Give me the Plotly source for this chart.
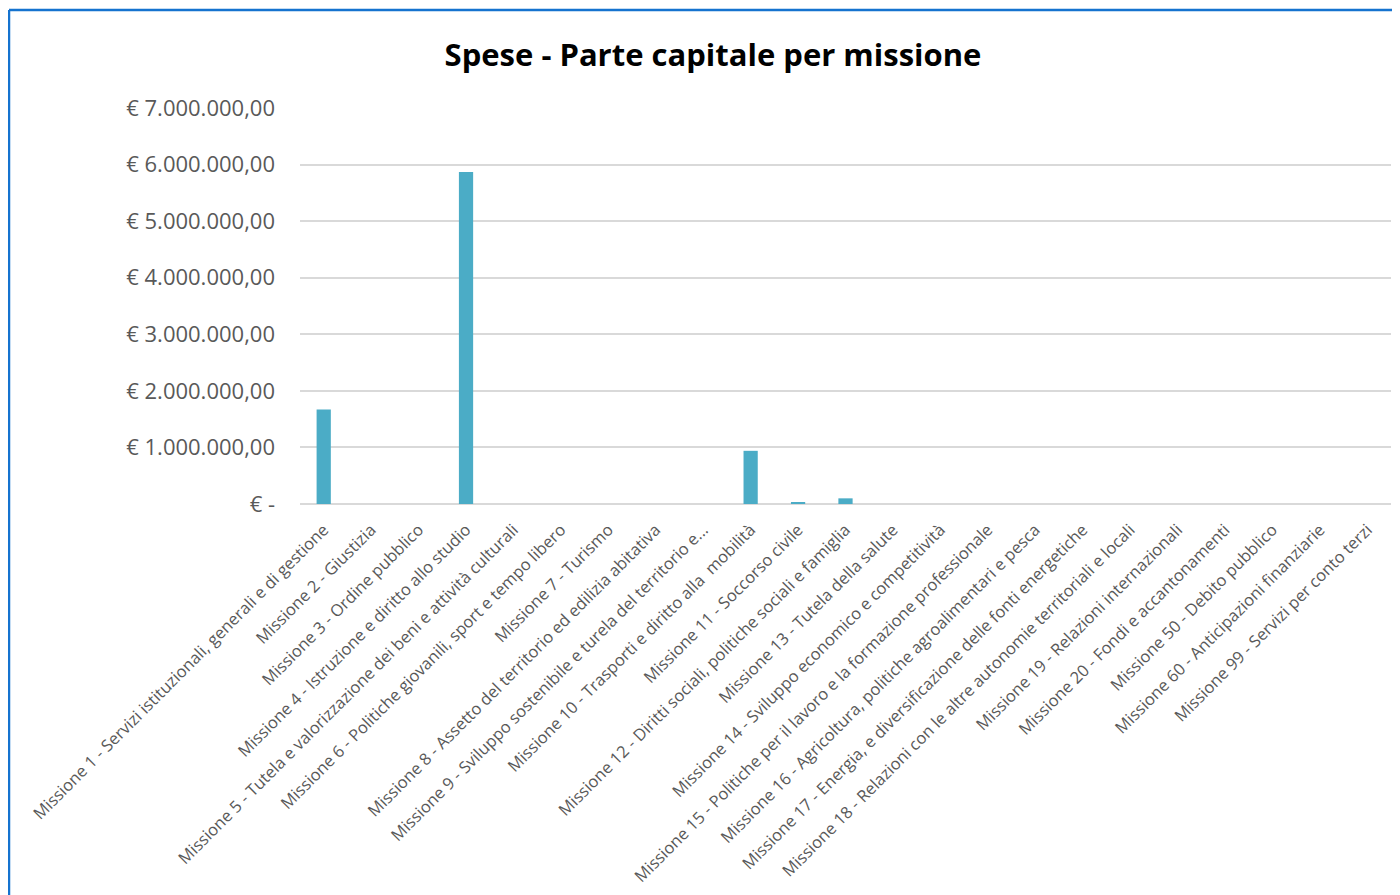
import plotly.graph_objects as go

categories = [
    "Missione 1 - Servizi istituzionali, generali e di gestione",
    "Missione 2 - Giustizia",
    "Missione 3 - Ordine pubblico",
    "Missione 4 - Istruzione e diritto allo studio",
    "Missione 5 - Tutela e valorizzazione dei beni e attività culturali",
    "Missione 6 - Politiche giovanili, sport e tempo libero",
    "Missione 7 - Turismo",
    "Missione 8 - Assetto del territorio ed edilizia abitativa",
    "Missione 9 - Sviluppo sostenibile e turela del territorio e...",
    "Missione 10 - Trasporti e diritto alla  mobilità",
    "Missione 11 - Soccorso civile",
    "Missione 12 - Diritti sociali, politiche sociali e famiglia",
    "Missione 13 - Tutela della salute",
    "Missione 14 - Sviluppo economico e competitività",
    "Missione 15 - Politiche per il lavoro e la formazione professionale",
    "Missione 16 - Agricoltura, politiche agroalimentari e pesca",
    "Missione 17 - Energia, e diversificazione delle fonti energetiche",
    "Missione 18 - Relazioni con le altre autonomie territoriali e locali",
    "Missione 19 - Relazioni internazionali",
    "Missione 20 - Fondi e accantonamenti",
    "Missione 50 - Debito pubblico",
    "Missione 60 - Anticipazioni finanziarie",
    "Missione 99 - Servizi per conto terzi",
]

values = [
    1670000, 0, 0, 5870000, 0, 0, 0, 0, 0, 940000, 35000, 100000,
    0, 0, 0, 0, 0, 0, 0, 0, 0, 0, 0,
]

tick_vals = [0, 1000000, 2000000, 3000000, 4000000, 5000000, 6000000, 7000000]
tick_text = ["€ -", "€ 1.000.000,00", "€ 2.000.000,00", "€ 3.000.000,00",
             "€ 4.000.000,00", "€ 5.000.000,00", "€ 6.000.000,00", "€ 7.000.000,00"]

# page body has an 8px margin, so the figure is laid out in shifted coordinates
OFF = 8
W, H = 1400 - OFF, 895 - OFF
L, T = 300 - OFF, 108 - OFF
R = W - (1391 - OFF)
B = H - (504 - OFF)
pw = W - L - R
ph = H - T - B


def px_x(px):
    return (px - OFF - L) / pw


def px_y(py):
    return (H - B - (py - OFF)) / ph


FONT = "Open Sans"

fig = go.Figure(go.Bar(
    x=categories,
    y=values,
    marker=dict(color="#4BACC6", line=dict(width=0)),
    hoverinfo="x+y",
))

fig.update_layout(
    width=W, height=H,
    margin=dict(l=L, r=R, t=T, b=B, autoexpand=False),
    paper_bgcolor="white",
    plot_bgcolor="white",
    bargap=0.7,
    showlegend=False,
    title=dict(
        text="<b>Spese - Parte capitale per missione</b>",
        x=(713 - OFF) / W, xref="container", xanchor="center",
        y=1 - (55 - OFF) / H, yref="container", yanchor="middle",
        font=dict(family=FONT, size=31, color="#000000"),
    ),
    xaxis=dict(
        type="category",
        tickangle=-45,
        tickfont=dict(family=FONT, size=16.5, color="#595959"),
        showgrid=False,
        showline=False,
        ticks="",
        ticklabelstandoff=12,
        automargin=False,
    ),
    yaxis=dict(
        range=[0, 7000000],
        tickvals=tick_vals,
        ticktext=tick_text,
        tickfont=dict(family=FONT, size=22, color="#595959"),
        showgrid=True,
        gridcolor="#D9D9D9",
        gridwidth=1.5,
        zeroline=True,
        zerolinecolor="#D9D9D9",
        zerolinewidth=1.5,
        showline=False,
        ticks="",
        ticklabelstandoff=24,
        automargin=False,
    ),
    shapes=[
        dict(type="line", xref="paper", yref="paper",
             x0=px_x(9), x1=px_x(1402), y0=px_y(10), y1=px_y(10),
             line=dict(color="#1573CF", width=2.5)),
        dict(type="line", xref="paper", yref="paper",
             x0=px_x(9), x1=px_x(9), y0=px_y(10), y1=px_y(900),
             line=dict(color="#1573CF", width=2.5)),
    ],
)

fig.write_html("out.html")
